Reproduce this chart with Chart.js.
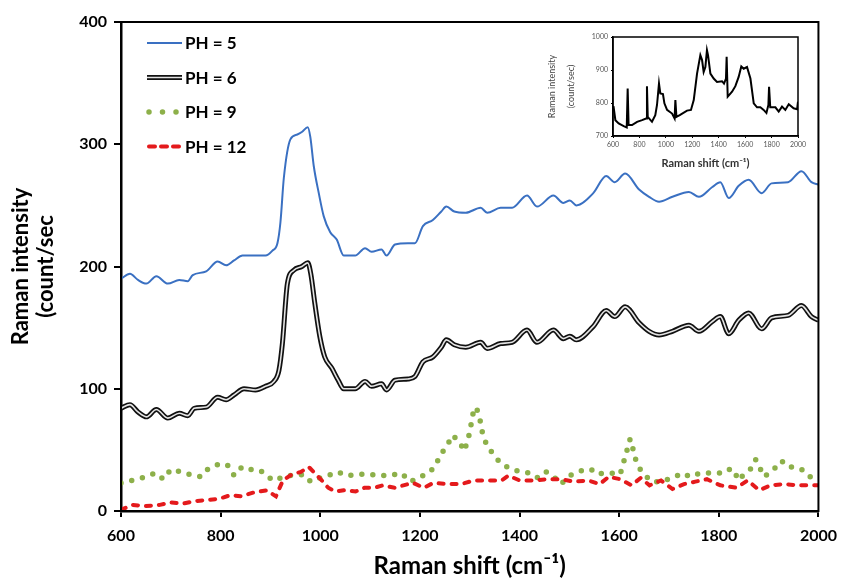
<!DOCTYPE html>
<html>
<head>
<meta charset="utf-8">
<script src="https://cdn.jsdelivr.net/npm/chart.js@4.4.1/dist/chart.umd.min.js"></script>
<style>
html,body{margin:0;padding:0;background:#fff}
#wrap{position:relative;width:846px;height:579px}
#main{position:absolute;left:0;top:0}
#inset{position:absolute;left:540px;top:26px}
</style>
</head>
<body>
<div id="wrap">
  <canvas id="main" width="846" height="579"></canvas>
  <canvas id="inset" width="280" height="150"></canvas>
</div>
<script>
// Tick labels
const xTicks=[600,800,1000,1200,1400,1600,1800,2000];
const yTicks=[0,100,200,300,400];
const insetXTicks=[600,800,1000,1200,1400,1600,1800,2000];
const insetYTicks=[700,800,900,1000];

// PH = 5
const shift5=[600,618,634,651,671,694,717,734,744,771,
 794,811,827,844,870,890,904,914,920,927,
 940,954,963,975,980,987,997,1007,1020,1033,
 1047,1070,1090,1103,1123,1133,1150,1176,1190,1206,
 1226,1243,1253,1269,1292,1322,1335,1362,1385,1415,
 1435,1468,1488,1501,1514,1548,1574,1591,1612,1640,
 1660,1680,1707,1740,1760,1787,1803,1820,1840,1860,
 1886,1906,1939,1966,1986,2000];
const ph5=[190,194,189,186,192,186,189,188,193,196,
 204,201,205,209,209,209,213,219,236,273,
 304,308,310,314,306,282,260,241,228,222,
 209,209,215,212,214,209,218,219,219,233,
 238,245,249,245,244,248,244,248,248,258,
 249,258,252,254,250,260,274,269,276,263,
 257,253,257,261,257,265,269,256,266,271,
 260,268,269,278,269,267];

// PH = 6
const shift6=[600,618,634,651,671,694,717,734,747,771,
 794,811,827,847,870,890,907,917,924,934,
 947,963,975,981,989,999,1009,1023,1036,1047,
 1070,1090,1103,1123,1133,1150,1176,1190,1206,1226,
 1243,1253,1269,1292,1322,1335,1362,1385,1415,1435,
 1468,1488,1501,1514,1548,1574,1591,1612,1640,1660,
 1680,1707,1740,1760,1787,1803,1820,1840,1860,1886,
 1906,1939,1966,1986,2000];
const ph6=[84,87,81,77,83,76,80,78,84,85,
 93,91,95,100,99,102,106,115,137,186,
 197,200,203,194,170,143,126,117,107,100,
 100,106,102,104,99,107,108,110,122,126,
 134,140,136,134,138,133,137,138,148,138,
 148,141,143,140,151,164,159,167,154,147,
 144,147,152,147,155,159,145,156,162,149,
 158,160,168,159,156];

// PH = 9
const shift9=[600,632,650,669,685,700,721,744,760,776,
 795,813,827,843,856,874,889,904,920,936,
 952,966,981,998,1016,1035,1053,1079,1097,1117,
 1139,1163,1181,1197,1216,1230,1241,1254,1265,1279,
 1289,1297,1302,1306,1313,1320,1325,1333,1346,1362,
 1380,1402,1422,1437,1454,1469,1483,1501,1531,1544,
 1557,1567,1584,1602,1609,1616,1622,1629,1635,1647,
 1666,1684,1707,1727,1742,1762,1775,1794,1807,1818,
 1830,1839,1853,1866,1874,1885,1891,1910,1926,1939,
 1953,1972,1986,2000];
const ph9=[23,26,28,31,26,34,32,29,28,35,
 38,38,29,36,34,34,31,25,27,29,
 29,30,24,27,29,32,29,30,30,29,
 29,31,24,27,31,36,46,53,62,57,
 49,59,69,79,85,76,65,55,47,39,
 35,32,31,27,32,28,22,29,34,34,
 30,31,31,30,40,50,59,49,39,31,
 24,24,27,31,28,31,31,31,31,34,
 34,25,31,35,42,33,28,34,41,36,
 36,33,27,24];

// PH = 12
const shift12=[600,623,650,678,700,724,746,774,797,820,
 842,865,893,911,925,943,961,977,989,1003,
 1016,1030,1048,1071,1089,1108,1126,1149,1167,1186,
 1208,1227,1254,1282,1309,1336,1364,1378,1400,1428,
 1455,1483,1510,1538,1561,1579,1602,1625,1643,1661,
 1684,1707,1730,1753,1776,1803,1835,1858,1881,1904,
 1931,1958,1986,2000];
const ph12=[1,5,4,5,7,6,8,9,10,13,
 12,15,17,12,25,30,32,36,31,25,
 19,16,17,16,19,19,21,19,21,23,
 19,23,22,22,25,25,25,29,25,25,
 26,26,24,25,22,28,26,21,27,21,
 25,18,22,24,26,21,19,25,17,21,
 22,21,21,21];

// Inset spectrum
const insetShift=[600,605,618,643,681,704,711,718,744,782,
 820,850,857,863,895,920,933,948,958,978,
 989,1009,1047,1066,1072,1080,1105,1160,1190,1211,
 1236,1261,1274,1286,1299,1311,1319,1337,1362,1387,
 1425,1440,1455,1460,1468,1501,1526,1551,1571,1589,
 1614,1640,1665,1690,1715,1740,1761,1776,1781,1790,
 1829,1854,1879,1904,1930,1967,1993,2000];
const insetVal=[790,787,748,738,730,726,844,733,733,743,
 748,753,851,758,743,763,794,859,829,827,
 799,779,768,753,809,758,763,777,779,809,
 889,945,930,894,909,960,945,889,874,864,
 866,859,874,940,819,834,851,879,911,904,
 909,874,799,787,787,779,770,794,849,787,
 787,774,789,779,796,784,781,804];

const FONT='Lato, "Open Sans", sans-serif';
function pts(xs,ys){ return xs.map((x,i)=>({x:x,y:ys[i]})); }
const plain=v=>String(v);

// box round the plot area
const frame={id:'frame',afterDatasetsDraw(chart,args,opts){
  const a=chart.chartArea, ctx=chart.ctx;
  ctx.save(); ctx.strokeStyle='#000'; ctx.lineWidth=opts.width||2;
  ctx.strokeRect(a.left,a.top,a.right-a.left,a.bottom-a.top); ctx.restore();
}};

// legend with line samples (unlabelled sets are drawn on the previous row)
const sampleLegend={id:'sampleLegend',afterDraw(chart){
  const ctx=chart.ctx; let y=43, first=true;
  chart.data.datasets.forEach(ds=>{
    if(ds.label){ if(!first) y+=34.5; first=false; }
    ctx.save();
    ctx.strokeStyle=ds.borderColor; ctx.lineWidth=ds.borderWidth;
    ctx.lineCap=ds.borderCapStyle||'butt';
    ctx.setLineDash(ds.legendDash||ds.borderDash||[]);
    ctx.beginPath(); ctx.moveTo(ds.legendDash?149:147,y); ctx.lineTo(182,y); ctx.stroke();
    if(ds.label){
      ctx.setLineDash([]); ctx.fillStyle='#000'; ctx.font='bold 17px '+FONT;
      ctx.textBaseline='middle'; ctx.textAlign='left'; ctx.fillText(ds.label,185,y+1);
    }
    ctx.restore();
  });
}};

new Chart(document.getElementById('main'),{
  type:'line',
  data:{datasets:[
    {label:'PH = 5',data:pts(shift5,ph5),borderColor:'#3a70c2',borderWidth:2,cubicInterpolationMode:'monotone',order:4},
    {label:'PH = 6',data:pts(shift6,ph6),borderColor:'#111',borderWidth:5,cubicInterpolationMode:'monotone',order:3},
    {label:'',data:pts(shift6,ph6),borderColor:'#e4e4e4',borderWidth:1.6,cubicInterpolationMode:'monotone',order:2},
    {label:'PH = 9',data:pts(shift9,ph9),borderColor:'#8db04a',borderWidth:5.5,borderDash:[0,11],legendDash:[0,13.5],borderCapStyle:'round',order:1},
    {label:'PH = 12',data:pts(shift12,ph12),borderColor:'#e41a1c',borderWidth:4,borderDash:[5,8],legendDash:[6,6],borderCapStyle:'round',order:0}
  ]},
  options:{
    responsive:false,animation:false,
    elements:{point:{radius:0},line:{tension:0}},
    layout:{padding:{left:0,right:22,top:22,bottom:0}},
    plugins:{legend:{display:false},tooltip:{enabled:false},frame:{width:2}},
    scales:{
      x:{type:'linear',min:600,max:2000,
        afterBuildTicks:s=>{s.ticks=xTicks.map(v=>({value:v}));},
        afterFit:s=>{s.height=68;},
        ticks:{color:'#000',font:{family:FONT,size:16,weight:'bold'},padding:9,maxRotation:0,callback:plain},
        grid:{drawOnChartArea:false,drawTicks:true,tickLength:6,color:'#000',lineWidth:2},
        border:{color:'#000',width:2.5},
        title:{display:true,text:'Raman shift (cm\u207B\u00B9)',color:'#000',font:{family:FONT,size:24,weight:'bold',lineHeight:1.1},padding:{top:0,bottom:0}}
      },
      y:{min:0,max:400,
        afterBuildTicks:s=>{s.ticks=yTicks.map(v=>({value:v}));},
        afterFit:s=>{s.width=121;},
        ticks:{color:'#000',font:{family:FONT,size:16,weight:'bold'},padding:7,callback:plain},
        grid:{drawOnChartArea:false,drawTicks:true,tickLength:7,color:'#000',lineWidth:2},
        border:{color:'#000',width:2.5},
        title:{display:true,text:['Raman intensity','(count/sec'],color:'#000',font:{family:FONT,size:22,weight:'bold',lineHeight:1.15},padding:{top:8,bottom:0}}
      }
    }
  },
  plugins:[frame,sampleLegend]
});

// Inset
new Chart(document.getElementById('inset'),{
  type:'line',
  data:{datasets:[{data:pts(insetShift,insetVal),borderColor:'#000',borderWidth:2}]},
  options:{
    responsive:false,animation:false,
    elements:{point:{radius:0},line:{tension:0}},
    layout:{padding:{left:0,right:22,top:11,bottom:0}},
    plugins:{legend:{display:false},tooltip:{enabled:false},frame:{width:1.5}},
    scales:{
      x:{type:'linear',min:600,max:2000,
        afterBuildTicks:s=>{s.ticks=insetXTicks.map(v=>({value:v}));},
        afterFit:s=>{s.height=40;},
        ticks:{color:'#555',font:{family:FONT,size:7},padding:3,maxRotation:0,autoSkip:false,callback:plain},
        grid:{drawOnChartArea:false,drawTicks:true,tickLength:2,color:'#000',lineWidth:1},
        border:{color:'#000',width:1.5},
        title:{display:true,text:'Raman shift (cm\u207B\u00B9)',color:'#333',font:{family:FONT,size:11,weight:'bold'},padding:{top:0,bottom:6}}
      },
      y:{min:700,max:1000,
        afterBuildTicks:s=>{s.ticks=insetYTicks.map(v=>({value:v}));},
        afterFit:s=>{s.width=73;},
        ticks:{color:'#555',font:{family:FONT,size:7},padding:3,callback:plain},
        grid:{drawOnChartArea:false,drawTicks:true,tickLength:2,color:'#000',lineWidth:1},
        border:{color:'#000',width:1.5},
        title:{display:true,text:['Raman intensity','(count/sec)'],color:'#444',font:{family:FONT,size:9,lineHeight:2.1},padding:{top:3,bottom:0}}
      }
    }
  },
  plugins:[frame]
});
</script>
</body>
</html>
